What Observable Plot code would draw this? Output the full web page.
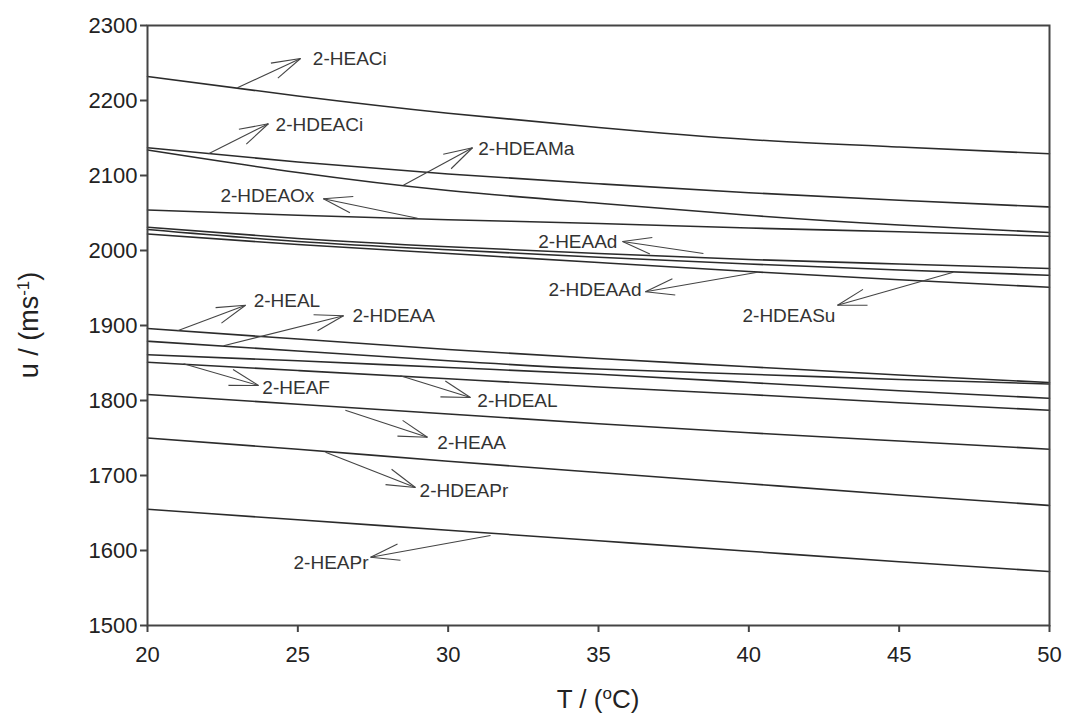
<!DOCTYPE html>
<html><head><meta charset="utf-8">
<script src="https://cdn.jsdelivr.net/npm/d3@7"></script>
<script src="https://cdn.jsdelivr.net/npm/@observablehq/plot@0.6"></script>
<style>body{margin:0;background:#fff}svg{display:block}</style>
</head><body><div id="chart"></div>
<script>
// Temperatures (°C)
const temps = [20, 25, 30, 35, 40, 45, 50];

// Speed of sound u (m/s)
const u_HEACi  = [2232, 2206, 2183, 2164, 2148, 2138, 2129];
const u_HDEACi = [2137, 2118, 2102, 2089, 2077, 2067, 2058];
const u_HDEAMa = [2134, 2104, 2080, 2063, 2047, 2034, 2024];
const u_HDEAOx = [2054, 2047, 2041, 2036, 2030, 2025, 2019];
const u_HEAAd  = [2031, 2016, 2005, 1996, 1988, 1982, 1976];
const u_HDEASu = [2028, 2012, 2001, 1991, 1982, 1974, 1967];
const u_HDEAAd = [2022, 2008, 1996, 1984, 1972, 1961, 1951];
const u_HEAL   = [1896, 1882, 1868, 1856, 1845, 1834, 1824];
const u_HDEAA  = [1879, 1866, 1853, 1842, 1835, 1828, 1822];
const u_HDEAL  = [1861, 1853, 1844, 1835, 1824, 1813, 1803];
const u_HEAF   = [1851, 1840, 1829, 1818, 1808, 1797, 1787];
const u_HEAA   = [1808, 1795, 1782, 1769, 1757, 1746, 1735];
const u_HDEAPr = [1750, 1735, 1719, 1704, 1689, 1674, 1660];
const u_HEAPr  = [1655, 1641, 1627, 1613, 1599, 1585, 1572];

const seriesNames = ["2-HEACi","2-HDEACi","2-HDEAMa","2-HDEAOx","2-HEAAd","2-HDEASu","2-HDEAAd",
  "2-HEAL","2-HDEAA","2-HDEAL","2-HEAF","2-HEAA","2-HDEAPr","2-HEAPr"];
const seriesValues = [u_HEACi,u_HDEACi,u_HDEAMa,u_HDEAOx,u_HEAAd,u_HDEASu,u_HDEAAd,
  u_HEAL,u_HDEAA,u_HDEAL,u_HEAF,u_HEAA,u_HDEAPr,u_HEAPr];

// Axis ticks
const xTicks = [20, 25, 30, 35, 40, 45, 50];
const yTicks = [1500, 1600, 1700, 1800, 1900, 2000, 2100, 2200, 2300];

// Annotation labels with arrows (data coordinates)
const annLabel  = ["2-HEACi","2-HDEACi","2-HDEAMa","2-HDEAOx","2-HEAAd","2-HDEAAd","2-HDEASu",
  "2-HEAL","2-HDEAA","2-HEAF","2-HDEAL","2-HEAA","2-HDEAPr","2-HEAPr"];
const annTailT  = [22.99, 22.03, 28.51, 28.98, 38.49, 40.29, 46.80, 21.00, 22.53, 21.20, 28.41, 26.58, 25.92, 31.41];
const annTailU  = [2217, 2129, 2087, 2043, 1996, 1971, 1971, 1893, 1873, 1849, 1833, 1787, 1731, 1620];
const annHeadT  = [25.09, 24.02, 30.81, 25.85, 35.80, 36.56, 42.95, 23.26, 26.52, 23.69, 30.74, 29.31, 28.91, 27.42];
const annHeadU  = [2256, 2169, 2137, 2069, 2012, 1945, 1927, 1927, 1913, 1820, 1804, 1751, 1684, 1591];
const annTextT  = [25.50, 24.26, 31.00, 25.55, 35.63, 36.43, 42.88, 23.53, 26.82, 23.82, 30.97, 29.64, 29.05, 27.35];
const annTextU  = [2256, 2167, 2136, 2073, 2012, 1947, 1913, 1933, 1913, 1817, 1800, 1743, 1680, 1584];
const annAnchor = ["start","start","start","end","end","end","end","start","start","start","start","start","start","end"];

const W = 1065, H = 724, ML = 147, MR = 16, MT = 25, MB = 99;
const xDomain = [20, 50], yDomain = [1500, 2300];

const rows = [];
seriesNames.forEach((name, s) => seriesValues[s].forEach((u, i) => rows.push({name, T: temps[i], u})));
const ann = annLabel.map((label, i) => ({label, t1: annTailT[i], u1: annTailU[i], t2: annHeadT[i], u2: annHeadU[i],
  tt: annTextT[i], tu: annTextU[i], anchor: annAnchor[i]}));

// open arrowhead wings: pixels per unit from the plot frame
const kx = (W - ML - MR) / (xDomain[1] - xDomain[0]);
const ky = (H - MT - MB) / (yDomain[1] - yDomain[0]);
const wingLen = 30, wingAng = 16 * Math.PI / 180;
const wings = [];
ann.forEach(d => {
  const vx = (d.t1 - d.t2) * kx, vy = -(d.u1 - d.u2) * ky;
  const n = Math.hypot(vx, vy), ux = vx / n, uy = vy / n;
  for (const s of [-1, 1]) {
    const c = Math.cos(s * wingAng), sn = Math.sin(s * wingAng);
    const rx = (ux * c - uy * sn) * wingLen, ry = (ux * sn + uy * c) * wingLen;
    wings.push({t1: d.t2, u1: d.u2, t2: d.t2 + rx / kx, u2: d.u2 - ry / ky});
  }
});

const font = "'Liberation Sans', Arial, sans-serif";
const plot = Plot.plot({
  width: W, height: H,
  marginLeft: ML, marginRight: MR, marginTop: MT, marginBottom: MB,
  style: {fontFamily: font, fontSize: "22px", color: "#222", background: "#fff"},
  x: {domain: xDomain, label: null},
  y: {domain: yDomain, label: null},
  marks: [
    Plot.axisX({ticks: xTicks, tickSize: 7, tickPadding: 14, tickFormat: "d", strokeWidth: 2, stroke: "#444", label: null}),
    Plot.axisY({ticks: yTicks, tickSize: 7, tickPadding: 3, tickFormat: "d", strokeWidth: 2, stroke: "#444", label: null}),
    Plot.line(rows, {x: "T", y: "u", z: "name", curve: "natural", stroke: "#2b2b2b", strokeWidth: 1.6}),
    Plot.link(ann, {x1: "t1", y1: "u1", x2: "t2", y2: "u2", stroke: "#444", strokeWidth: 1.1}),
    Plot.link(wings, {x1: "t1", y1: "u1", x2: "t2", y2: "u2", stroke: "#444", strokeWidth: 1.1}),
    Plot.text(ann.filter(d => d.anchor === "start"), {x: "tt", y: "tu", text: "label", textAnchor: "start", lineAnchor: "middle", fontSize: 19, fill: "#333"}),
    Plot.text(ann.filter(d => d.anchor === "end"), {x: "tt", y: "tu", text: "label", textAnchor: "end", lineAnchor: "middle", fontSize: 19, fill: "#333"}),
    Plot.frame({stroke: "#444", strokeWidth: 2})
  ]
});

const svg = d3.select(plot);
const xr = plot.scale("x").range, yr = plot.scale("y").range;
const xt = svg.append("text").attr("x", (xr[0] + xr[1]) / 2).attr("y", 708)
  .attr("text-anchor", "middle").attr("font-size", 26).attr("fill", "#222").attr("font-family", font);
xt.append("tspan").text("T / (");
xt.append("tspan").attr("baseline-shift", "super").attr("font-size", 17).text("o");
xt.append("tspan").text("C)");
const yc = (yr[0] + yr[1]) / 2;
const yt = svg.append("text").attr("transform", `translate(38,${yc}) rotate(-90)`)
  .attr("text-anchor", "middle").attr("font-size", 27).attr("fill", "#222").attr("font-family", font);
yt.append("tspan").text("u / (ms");
yt.append("tspan").attr("baseline-shift", "super").attr("font-size", 17).text("-1");
yt.append("tspan").text(")");

document.getElementById("chart").append(plot);
</script>
</body></html>
